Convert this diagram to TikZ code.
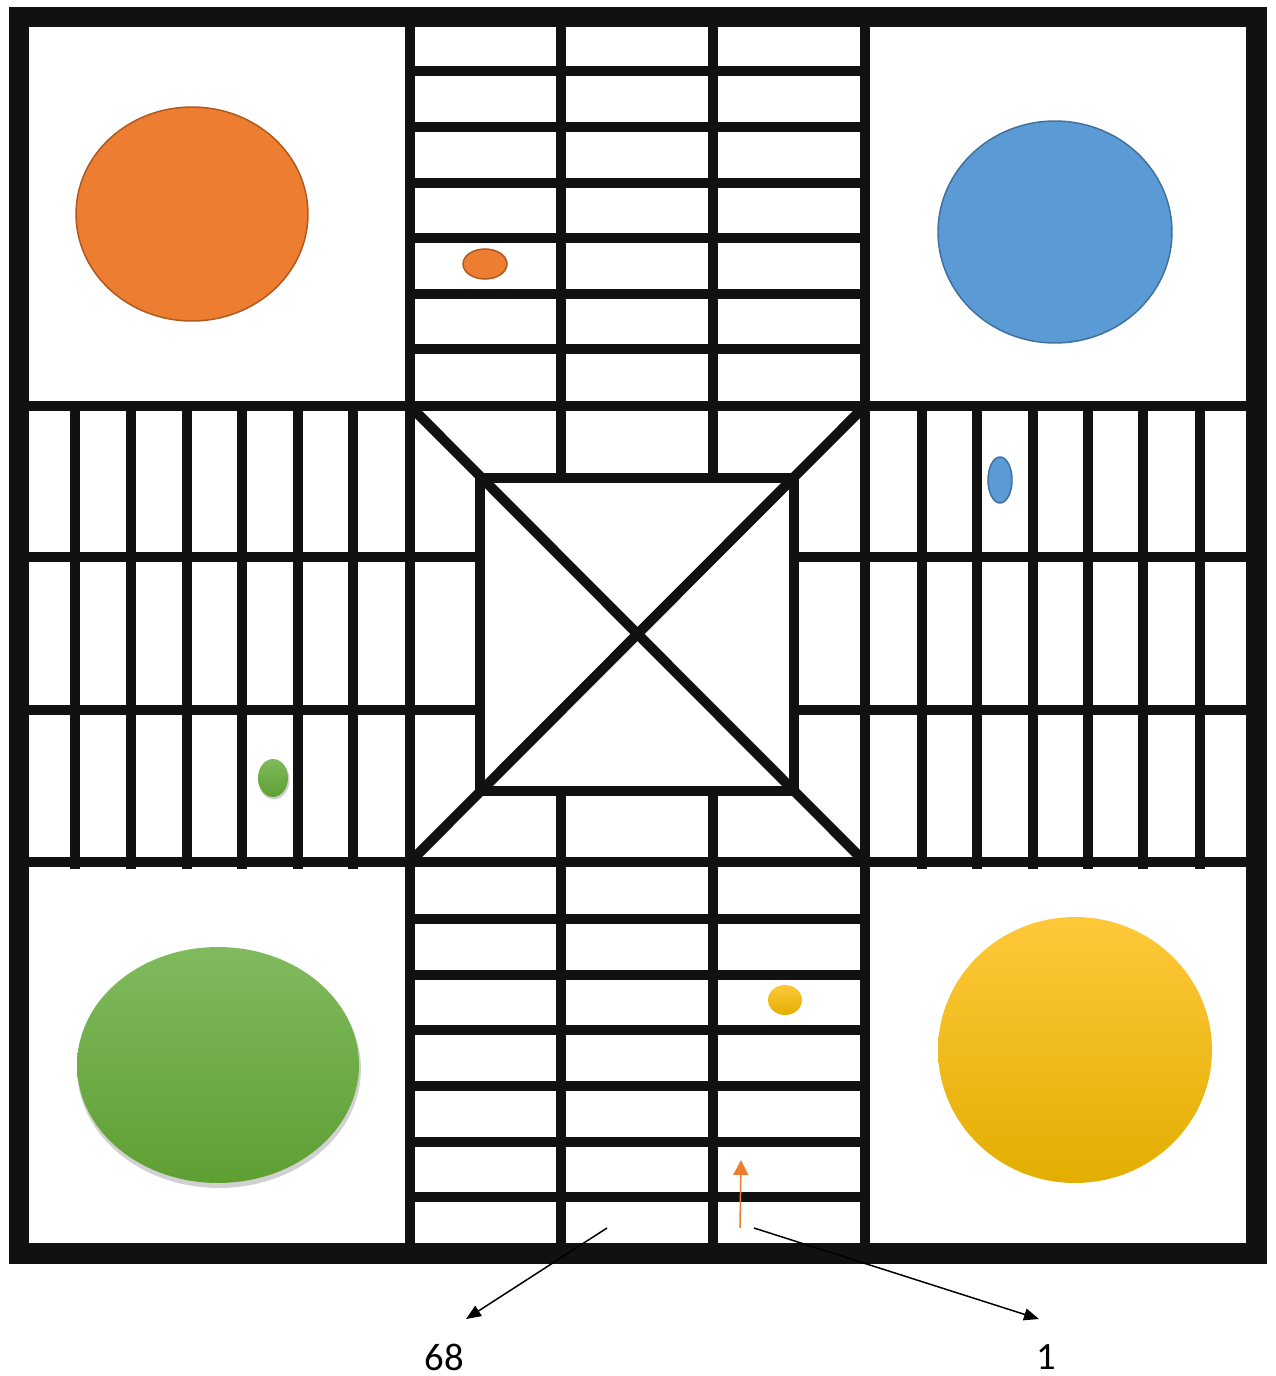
\documentclass[tikz,border=0pt]{standalone}
\usepackage{fontspec}
\setmainfont{Carlito}
\usetikzlibrary{arrows.meta}
\definecolor{orgfill}{HTML}{ED7D31}
\definecolor{orgline}{HTML}{AE5A21}
\definecolor{bluefill}{HTML}{5B9BD5}
\definecolor{blueline}{HTML}{41719C}
\definecolor{greentop}{HTML}{80BA5E}
\definecolor{greenbot}{HTML}{5E9F32}
\definecolor{yeltop}{HTML}{FFC83A}
\definecolor{yelmid}{HTML}{FFC000}
\definecolor{yelbot}{HTML}{E2AE00}
\definecolor{ink}{HTML}{111111}
\tikzset{
  frame/.style={draw=ink, line width=0.42cm},
  grid/.style={draw=ink, line width=0.2cm},
  orgtok/.style={fill=orgfill, draw=orgline, line width=0.03cm},
  bluetok/.style={fill=bluefill, draw=blueline, line width=0.03cm},
  greentok/.style={top color=greentop, bottom color=greenbot},
  yeltok/.style={top color=yeltop, middle color=yelmid, bottom color=yelbot},
  shadowtok/.style={fill=black, opacity=0.18},
  pointer/.style={draw=black, line width=0.03cm, -{Triangle[length=0.3cm,width=0.24cm]}},
  orgpointer/.style={draw=orgfill, line width=0.03cm, -{Triangle[length=0.3cm,width=0.3cm]}},
  numlabel/.style={font=\fontsize{22}{26}\selectfont, inner sep=0pt}
}
\begin{document}
\begin{tikzpicture}[x=0.02cm, y=-0.02cm]
\useasboundingbox (0,0) rectangle (1275,1376);
\fill[white] (0,0) rectangle (1275,1376);

% grid of the arms
% top arm horizontals
\foreach \y in {71,127,183,238,294,349} \draw[grid] (410,\y) -- (865,\y);
% bottom arm horizontals
\foreach \y in {919,975,1030,1086,1142,1197} \draw[grid] (410,\y) -- (865,\y);
% left arm verticals
\foreach \x in {75,131,187,242,298,353} \draw[grid] (\x,406) -- (\x,869);
% right arm verticals
\foreach \x in {922,977,1033,1088,1143,1200} \draw[grid] (\x,406) -- (\x,869);
% inner lanes of the vertical arm
\foreach \x in {561,713} {
  \draw[grid] (\x,17) -- (\x,478);
  \draw[grid] (\x,791) -- (\x,1253);
}
% inner lanes of the horizontal arm
\foreach \y in {557,710} {
  \draw[grid] (19,\y) -- (480,\y);
  \draw[grid] (794,\y) -- (1256,\y);
}
% long boundary lines
\draw[grid] (410,17) -- (410,1253);
\draw[grid] (865,17) -- (865,1253);
\draw[grid] (19,406) -- (1256,406);
\draw[grid] (19,862) -- (1256,862);
% central square and diagonals
\draw[grid] (480,478) rectangle (794,791);
\draw[grid] (410,406) -- (865,862);
\draw[grid] (865,406) -- (410,862);
% outer frame
\draw[frame] (19,17) rectangle (1256,1253);

% big home circles
\draw[orgtok] (192,214) ellipse [x radius=2.32cm, y radius=2.14cm];
\draw[bluetok] (1055,232) ellipse [x radius=2.34cm, y radius=2.22cm];
\fill[shadowtok] (219,1069) ellipse [x radius=2.84cm, y radius=2.38cm];
\shade[greentok] (218,1065) ellipse [x radius=2.82cm, y radius=2.36cm];
\shade[yeltok] (1075,1050) ellipse [x radius=2.74cm, y radius=2.66cm];

% small tokens
\draw[orgtok] (485,264) ellipse [x radius=0.44cm, y radius=0.30cm];
\draw[bluetok] (1000,480) ellipse [x radius=0.24cm, y radius=0.46cm];
\fill[shadowtok] (274,780) ellipse [x radius=0.31cm, y radius=0.39cm];
\shade[greentok] (273,778) ellipse [x radius=0.30cm, y radius=0.38cm];
\shade[yeltok] (785,1000) ellipse [x radius=0.34cm, y radius=0.30cm];

% orange move arrow
\coordinate (mvs) at (740,1228);
\coordinate (mve) at (741,1160);
\draw[orgpointer] (mvs) -- (mve);

% pointers to numbers
\coordinate (s68) at (607,1228);
\coordinate (e68) at (466,1319);
\coordinate (s1) at (754,1228);
\coordinate (e1) at (1039,1319);
\draw[pointer] (s68) -- (e68);
\draw[pointer] (s1) -- (e1);
\node[numlabel] (l68) at (444,1357) {68};
\node[numlabel] (l1) at (1046,1357) {1};
\end{tikzpicture}
\end{document}
